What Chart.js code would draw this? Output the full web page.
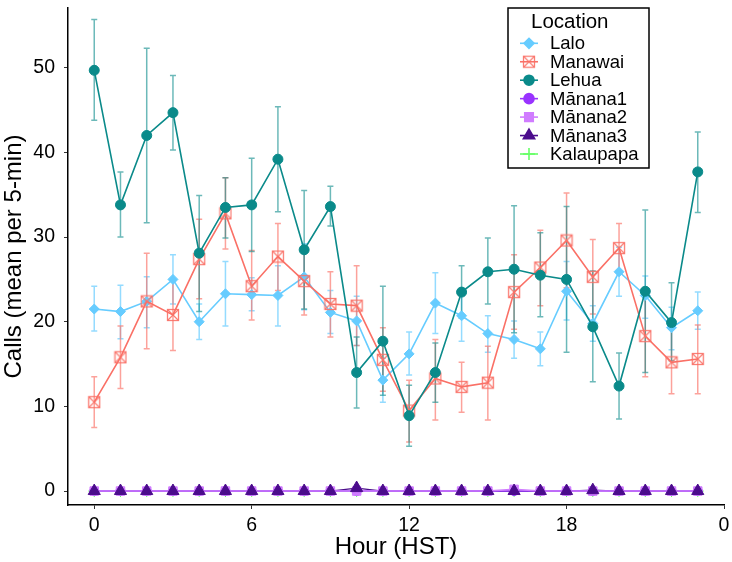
<!DOCTYPE html>
<html>
<head>
<meta charset="utf-8">
<script src="https://cdn.jsdelivr.net/npm/chart.js@4.4.1/dist/chart.umd.min.js"></script>
<style>
html,body{margin:0;padding:0;background:#fff;}
#wrap{width:732px;height:562px;}
</style>
</head>
<body>
<div id="wrap"><canvas id="chart" width="732" height="562"></canvas></div>
<script>
// --- Datos ---
const hours = [0,1,2,3,4,5,6,7,8,9,10,11,12,13,14,15,16,17,18,19,20,21,22,23];
const xTicks = [0,6,12,18,24];
const xTickLabels = ['0','6','12','18','0'];
const yTicks = [0,10,20,30,40,50];

const lalo   = [21.5,21.2,22.4,25.0,20.0,23.3,23.2,23.1,25.3,21.1,20.1,13.1,16.2,22.2,20.7,18.6,17.9,16.8,23.6,19.8,25.9,23.1,19.3,21.3];
const laloLo = [18.9,18.0,19.3,22.1,17.9,19.5,21.3,19.5,21.4,18.6,17.2,10.5,13.7,18.6,17.7,16.4,15.7,14.8,20.2,17.7,23.0,20.4,16.7,19.1];
const laloHi = [24.2,24.3,25.3,27.9,22.1,27.1,25.2,26.6,29.2,23.7,23.0,15.7,18.8,25.8,23.7,20.7,20.1,18.8,27.1,21.9,28.8,25.4,21.7,23.5];

const manawai   = [10.5,15.8,22.4,20.8,27.4,32.8,24.2,27.7,24.8,22.1,21.9,15.5,9.5,13.3,12.3,12.8,23.5,26.4,29.6,25.3,28.7,18.3,15.2,15.6];
const manawaiLo = [7.5,12.1,16.8,16.6,22.7,28.6,20.2,23.7,20.8,18.2,17.2,11.8,5.8,8.4,9.3,8.4,19.1,21.9,24.0,20.9,25.8,13.5,11.5,11.5];
const manawaiHi = [13.5,19.5,28.1,25.0,32.1,37.0,28.4,31.6,28.8,25.9,26.6,19.3,13.1,17.9,15.2,17.1,27.9,30.8,35.2,29.7,31.6,23.1,19.1,19.6];

const lehua   = [49.7,33.8,42.0,44.7,28.1,33.5,33.8,39.2,28.5,33.6,14.0,17.7,8.9,14.0,23.5,25.9,26.2,25.5,25.0,19.4,12.4,23.6,19.9,37.7];
const lehuaLo = [43.8,30.0,31.7,40.3,21.2,29.9,28.3,33.0,21.5,31.3,9.8,11.3,5.3,10.5,20.4,22.1,18.7,20.6,16.4,12.9,8.5,14.0,15.4,32.9];
const lehuaHi = [55.7,37.7,52.3,49.1,34.9,37.0,39.3,45.4,35.5,36.0,18.2,24.2,12.5,17.5,26.6,29.9,33.7,30.5,33.6,26.0,16.3,33.2,24.6,42.4];

const manana1   = [0,0,0,0,0,0,0,0,0,0,0,0,0,0,0,0,0,0,0,0,0,0,0,0];
const manana2   = [0,0,0,0,0,0,0,0,0,0,0,0,0,0,0,0,0.2,0,0,0,0,0,0,0];
const manana3   = [0,0,0,0,0,0,0,0,0,0,0.35,0,0,0,0,0,0,0,0,0.1,0,0,0,0];
const kalaupapa = [0,0,0,0,0,0,0,0,0,0,0,0,0,0,0,0,0,0,0,0,0,0,0,0];

const FONT = "'Liberation Sans', Arial, Helvetica, sans-serif";

// cuadro con X (forma 7 de ggplot)
function boxCross(color){
    const c = document.createElement('canvas');
    c.width = 14; c.height = 14;
    const g = c.getContext('2d');
    g.strokeStyle = color; g.lineWidth = 1.3;
    g.strokeRect(1.5,1.5,11,11);
    g.beginPath();
    g.moveTo(1.5,1.5); g.lineTo(12.5,12.5);
    g.moveTo(12.5,1.5); g.lineTo(1.5,12.5);
    g.stroke();
    return c;
}

const pts = arr => arr.map((v,i)=>({x:hours[i], y:v}));

function serie(label, data, color, style, radius, order, extra){
    const ds = Object.assign({
        label, data: pts(data), borderColor: color, backgroundColor: color,
        pointStyle: style, pointRadius: radius, pointHoverRadius: radius,
        pointBorderColor: color, pointBackgroundColor: color,
        borderWidth: 1.6, pointBorderWidth: 1, tension: 0, order
    }, extra || {});
    if(ds.inLegend === undefined) ds.inLegend = true;
    if(!ds.legendRadius) ds.legendRadius = radius;
    return ds;
}

const datasets = [
    serie('Lalo', lalo, '#66CCFF', 'rectRot', 5, 3, {errLo: laloLo, errHi: laloHi, errColor:'rgba(102,204,255,0.7)'}),
    serie('Manawai', manawai, '#FA7066', boxCross('rgba(250,112,102,0.9)'), 7, 2, {errLo: manawaiLo, errHi: manawaiHi, errColor:'rgba(250,112,102,0.65)'}),
    serie('Lehua', lehua, '#0A8A8A', 'circle', 5, 1, {errLo: lehuaLo, errHi: lehuaHi, errColor:'rgba(10,138,138,0.6)'}),
    serie('M\u0101nana1', manana1, '#9933FF', 'circle', 4.5, 6, {legendRadius: 5}),
    serie('M\u0101nana2', manana2, '#D07CFF', 'rect', 6, 5),
    // linea de Mānana3 por debajo, triangulos encima de todo
    serie('M\u0101nana3', manana3, '#4B0C8C', 'triangle', 0, 7, {borderWidth:1.2, legendRadius: 6.5}),
    serie('Kalaupapa', kalaupapa, '#66FF66', 'cross', 6, 8, {borderWidth:1}),
    serie('M\u0101nana3 pts', manana3, '#4B0C8C', 'triangle', 7, 0, {showLine:false, inLegend:false})
];

// --- Barras de error ---
const errorBars = {
    id: 'errorBars',
    beforeDatasetsDraw(chart){
        const {ctx, scales:{x, y}} = chart;
        ctx.save();
        chart.data.datasets.forEach(ds=>{
            if(!ds.errLo) return;
            ctx.strokeStyle = ds.errColor; ctx.lineWidth = 1.5;
            hours.forEach((h,i)=>{
                const px = x.getPixelForValue(h);
                const y1 = y.getPixelForValue(ds.errLo[i]);
                const y2 = y.getPixelForValue(ds.errHi[i]);
                ctx.beginPath();
                ctx.moveTo(px,y1); ctx.lineTo(px,y2);
                ctx.moveTo(px-3,y1); ctx.lineTo(px+3,y1);
                ctx.moveTo(px-3,y2); ctx.lineTo(px+3,y2);
                ctx.stroke();
            });
        });
        ctx.restore();
    }
};

// --- Leyenda dentro del panel ---
const legendBox = {
    id: 'legendBox',
    afterDraw(chart){
        const ctx = chart.ctx;
        ctx.save();
        ctx.fillStyle = '#fff';
        ctx.fillRect(508,8,141,160);
        ctx.strokeStyle = '#000'; ctx.lineWidth = 1.5;
        ctx.strokeRect(508,8,141,160);
        ctx.fillStyle = '#000';
        ctx.textBaseline = 'middle'; ctx.textAlign = 'left';
        ctx.font = '20.5px ' + FONT;
        ctx.fillText('Location', 531, 22);
        ctx.font = '18.5px ' + FONT;
        chart.data.datasets.filter(ds=>ds.inLegend).forEach((ds,i)=>{
            const yy = 43.3 + i*18.45;
            ctx.strokeStyle = ds.borderColor; ctx.lineWidth = 1.6;
            ctx.beginPath(); ctx.moveTo(520,yy); ctx.lineTo(538,yy); ctx.stroke();
            ctx.fillStyle = ds.pointBackgroundColor;
            Chart.helpers.drawPoint(ctx, {pointStyle: ds.pointStyle, radius: ds.legendRadius, borderWidth: ds.pointBorderWidth, rotation: 0}, 529, yy);
            ctx.fillStyle = '#000';
            ctx.fillText(ds.label, 550, yy + 1);
        });
        ctx.restore();
    }
};

const ctx = document.getElementById('chart').getContext('2d');
const myChart = new Chart(ctx, {
    type: 'line',
    data: { datasets },
    options: {
        responsive: false, animation: false, devicePixelRatio: 1,
        layout: { padding: { left: 0, top: 0, right: 6, bottom: 0 } },
        plugins: { legend: { display: false }, tooltip: { enabled: false } },
        scales: {
            x: {
                type: 'linear', min: -1, max: 24,
                afterBuildTicks: s => { s.ticks = xTicks.map(v=>({value:v})); },
                afterFit: s => { s.height = 57; s.paddingLeft = 0; s.paddingRight = 0; },
                grid: { drawOnChartArea: false, tickLength: 4, color: '#333' },
                border: { color: '#000', width: 1.5 },
                ticks: { color: '#000', font: { size: 19.5, family: FONT }, padding: 5, maxRotation: 0,
                         callback: (v)=> xTickLabels[xTicks.indexOf(v)] },
                title: { display: true, text: 'Hour (HST)', color: '#000', font: { size: 24, family: FONT }, padding: { top: 0, bottom: 0 } }
            },
            y: {
                type: 'linear', min: -1.65, max: 57.06,
                afterBuildTicks: s => { s.ticks = yTicks.map(v=>({value:v})); },
                afterFit: s => { s.width = 68; s.paddingTop = 0; s.paddingBottom = 0; },
                grid: { drawOnChartArea: false, tickLength: 4, color: '#333' },
                border: { color: '#000', width: 1.5 },
                ticks: { color: '#000', font: { size: 19.5, family: FONT }, padding: 9 },
                title: { display: true, text: 'Calls (mean per 5-min)', color: '#000', font: { size: 24, family: FONT }, padding: { top: 0, bottom: 0 } }
            }
        }
    },
    plugins: [errorBars, legendBox]
});
</script>
</body>
</html>
